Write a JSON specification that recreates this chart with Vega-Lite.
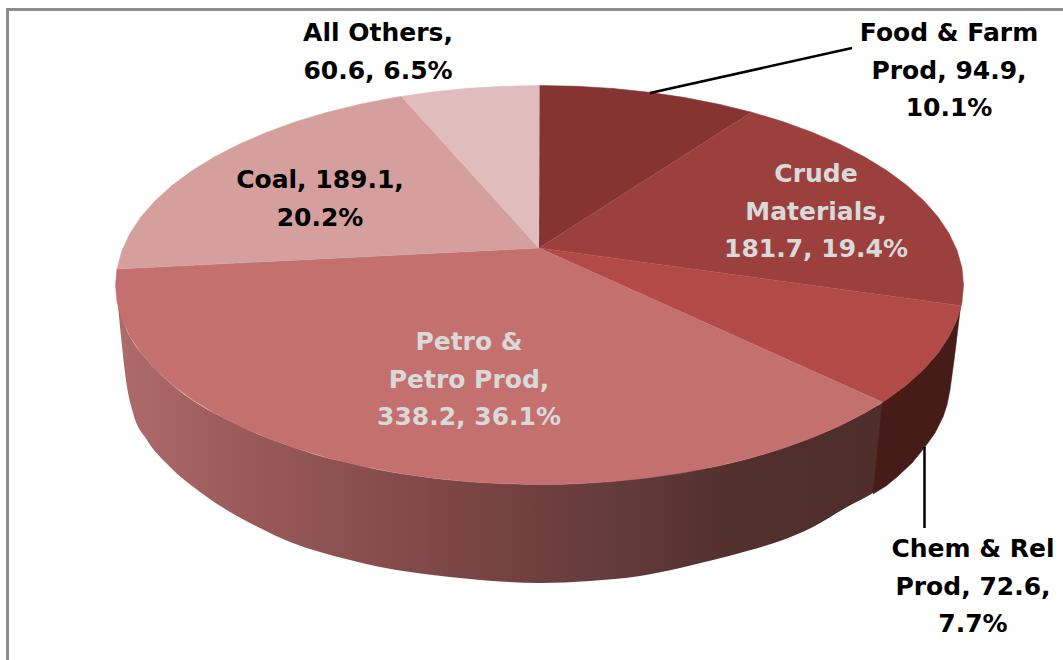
{"$schema":"https://vega.github.io/schema/vega-lite/v6.json","width":1063,"height":660,"padding":0,"autosize":{"type":"none"},"background":"#ffffff","config":{"view":{"stroke":null}},
"datasets":{
"frame":[{"x":7.5,"y":660,"seq":1},{"x":7.5,"y":9.5,"seq":2},{"x":1063,"y":9.5,"seq":3}],
"wall":[{"x":118,"y":304,"y2":306},{"x":127,"y":331,"y2":387},{"x":133,"y":342,"y2":413},{"x":147,"y":360,"y2":440},{"x":170,"y":383,"y2":467},{"x":200,"y":405,"y2":492},{"x":230,"y":421,"y2":512},{"x":260,"y":435,"y2":528},{"x":290,"y":446,"y2":542},{"x":320,"y":456,"y2":552},{"x":350,"y":463,"y2":560},{"x":380,"y":470,"y2":567},{"x":410,"y":475,"y2":572},{"x":460,"y":481,"y2":578},{"x":500,"y":483.5,"y2":581.5},{"x":540,"y":484.5,"y2":583},{"x":590,"y":483,"y2":581},{"x":640,"y":478,"y2":576},{"x":680,"y":472,"y2":568},{"x":713,"y":467,"y2":560},{"x":747,"y":459,"y2":551},{"x":780,"y":449,"y2":541},{"x":813,"y":437,"y2":527},{"x":847,"y":422,"y2":507},{"x":873,"y":408,"y2":493},{"x":882,"y":403,"y2":487}],
"chemwall":[{"seq":1,"x":882,"y":402.3},{"seq":2,"x":886.8,"y":399.4},{"seq":3,"x":906.7,"y":384.8},{"seq":4,"x":923.8,"y":369.3},{"seq":5,"x":937.9,"y":353.2},{"seq":6,"x":949,"y":336.6},{"seq":7,"x":957,"y":319.6},{"seq":8,"x":960.5,"y":307},{"seq":9,"x":955,"y":353},{"seq":10,"x":950,"y":390},{"seq":11,"x":947,"y":405},{"seq":12,"x":943,"y":417},{"seq":13,"x":935,"y":433},{"seq":14,"x":925,"y":447},{"seq":15,"x":912,"y":463},{"seq":16,"x":897,"y":477},{"seq":17,"x":886,"y":486},{"seq":18,"x":873,"y":494}],
"wedges":[
{"slice":"Food & Farm Prod","seq":0,"x":539,"y":248},{"slice":"Food & Farm Prod","seq":1,"x":539.5,"y":85.5},{"slice":"Food & Farm Prod","seq":2,"x":576.5,"y":86.3},{"slice":"Food & Farm Prod","seq":3,"x":613.1,"y":88.5},{"slice":"Food & Farm Prod","seq":4,"x":649.2,"y":92.3},{"slice":"Food & Farm Prod","seq":5,"x":684.5,"y":97.5},{"slice":"Food & Farm Prod","seq":6,"x":718.7,"y":104.2},{"slice":"Food & Farm Prod","seq":7,"x":751.5,"y":112.2},
{"slice":"Crude Materials","seq":0,"x":539,"y":248},{"slice":"Crude Materials","seq":1,"x":751.5,"y":112.2},{"slice":"Crude Materials","seq":2,"x":782.7,"y":121.6},{"slice":"Crude Materials","seq":3,"x":812,"y":132.2},{"slice":"Crude Materials","seq":4,"x":839.3,"y":143.9},{"slice":"Crude Materials","seq":5,"x":864.3,"y":156.8},{"slice":"Crude Materials","seq":6,"x":886.8,"y":170.6},{"slice":"Crude Materials","seq":7,"x":906.7,"y":185.3},{"slice":"Crude Materials","seq":8,"x":923.8,"y":200.7},{"slice":"Crude Materials","seq":9,"x":937.9,"y":216.8},{"slice":"Crude Materials","seq":10,"x":949,"y":233.4},{"slice":"Crude Materials","seq":11,"x":957,"y":250.4},{"slice":"Crude Materials","seq":12,"x":961.9,"y":267.6},{"slice":"Crude Materials","seq":13,"x":963.5,"y":285},{"slice":"Crude Materials","seq":14,"x":961.9,"y":302.4},{"slice":"Crude Materials","seq":15,"x":961.2,"y":305.8},
{"slice":"Chem & Rel Prod","seq":0,"x":539,"y":248},{"slice":"Chem & Rel Prod","seq":1,"x":961.2,"y":305.8},{"slice":"Chem & Rel Prod","seq":2,"x":957,"y":319.6},{"slice":"Chem & Rel Prod","seq":3,"x":949,"y":336.6},{"slice":"Chem & Rel Prod","seq":4,"x":937.9,"y":353.2},{"slice":"Chem & Rel Prod","seq":5,"x":923.8,"y":369.3},{"slice":"Chem & Rel Prod","seq":6,"x":906.7,"y":384.8},{"slice":"Chem & Rel Prod","seq":7,"x":886.8,"y":399.4},{"slice":"Chem & Rel Prod","seq":8,"x":882.5,"y":402.3},
{"slice":"Petro & Petro Prod","seq":0,"x":539,"y":248},{"slice":"Petro & Petro Prod","seq":1,"x":882.5,"y":402.3},{"slice":"Petro & Petro Prod","seq":2,"x":864.3,"y":413.2},{"slice":"Petro & Petro Prod","seq":3,"x":839.3,"y":426.1},{"slice":"Petro & Petro Prod","seq":4,"x":812,"y":437.8},{"slice":"Petro & Petro Prod","seq":5,"x":782.7,"y":448.4},{"slice":"Petro & Petro Prod","seq":6,"x":751.5,"y":457.8},{"slice":"Petro & Petro Prod","seq":7,"x":718.7,"y":465.8},{"slice":"Petro & Petro Prod","seq":8,"x":684.5,"y":472.5},{"slice":"Petro & Petro Prod","seq":9,"x":649.2,"y":477.7},{"slice":"Petro & Petro Prod","seq":10,"x":613.1,"y":481.5},{"slice":"Petro & Petro Prod","seq":11,"x":576.5,"y":483.7},{"slice":"Petro & Petro Prod","seq":12,"x":539.5,"y":484.5},{"slice":"Petro & Petro Prod","seq":13,"x":502.5,"y":483.7},{"slice":"Petro & Petro Prod","seq":14,"x":465.9,"y":481.5},{"slice":"Petro & Petro Prod","seq":15,"x":429.8,"y":477.7},{"slice":"Petro & Petro Prod","seq":16,"x":394.5,"y":472.5},{"slice":"Petro & Petro Prod","seq":17,"x":360.3,"y":465.8},{"slice":"Petro & Petro Prod","seq":18,"x":327.5,"y":457.8},{"slice":"Petro & Petro Prod","seq":19,"x":296.3,"y":448.4},{"slice":"Petro & Petro Prod","seq":20,"x":267,"y":437.8},{"slice":"Petro & Petro Prod","seq":21,"x":239.7,"y":426.1},{"slice":"Petro & Petro Prod","seq":22,"x":214.7,"y":413.2},{"slice":"Petro & Petro Prod","seq":23,"x":192.2,"y":399.4},{"slice":"Petro & Petro Prod","seq":24,"x":172.3,"y":384.8},{"slice":"Petro & Petro Prod","seq":25,"x":155.2,"y":369.3},{"slice":"Petro & Petro Prod","seq":26,"x":141.1,"y":353.2},{"slice":"Petro & Petro Prod","seq":27,"x":130,"y":336.6},{"slice":"Petro & Petro Prod","seq":28,"x":122,"y":319.6},{"slice":"Petro & Petro Prod","seq":29,"x":117.1,"y":302.4},{"slice":"Petro & Petro Prod","seq":30,"x":115.5,"y":285},{"slice":"Petro & Petro Prod","seq":31,"x":117,"y":269},
{"slice":"Coal","seq":0,"x":539,"y":248},{"slice":"Coal","seq":1,"x":117,"y":269},{"slice":"Coal","seq":2,"x":122,"y":250.4},{"slice":"Coal","seq":3,"x":130,"y":233.4},{"slice":"Coal","seq":4,"x":141.1,"y":216.8},{"slice":"Coal","seq":5,"x":155.2,"y":200.7},{"slice":"Coal","seq":6,"x":172.3,"y":185.3},{"slice":"Coal","seq":7,"x":192.2,"y":170.6},{"slice":"Coal","seq":8,"x":214.7,"y":156.8},{"slice":"Coal","seq":9,"x":239.7,"y":143.9},{"slice":"Coal","seq":10,"x":267,"y":132.2},{"slice":"Coal","seq":11,"x":296.3,"y":121.6},{"slice":"Coal","seq":12,"x":327.5,"y":112.2},{"slice":"Coal","seq":13,"x":360.3,"y":104.2},{"slice":"Coal","seq":14,"x":394.5,"y":97.5},{"slice":"Coal","seq":15,"x":401.5,"y":96.4},
{"slice":"All Others","seq":0,"x":539,"y":248},{"slice":"All Others","seq":1,"x":401.5,"y":96.4},{"slice":"All Others","seq":2,"x":429.8,"y":92.3},{"slice":"All Others","seq":3,"x":465.9,"y":88.5},{"slice":"All Others","seq":4,"x":502.5,"y":86.3},{"slice":"All Others","seq":5,"x":539.5,"y":85.5}],
"leaders":[{"leader":"food","seq":1,"x":650,"y":93},{"leader":"food","seq":2,"x":852,"y":48},{"leader":"chem","seq":1,"x":924.5,"y":447},{"leader":"chem","seq":2,"x":924.5,"y":528}],
"labels":[{"label":"Food & Farm\nProd, 94.9,\n10.1%","tone":"dark","x":949,"y":33},{"label":"All Others,\n60.6, 6.5%","tone":"dark","x":378,"y":33},{"label":"Coal, 189.1,\n20.2%","tone":"dark","x":320,"y":180},{"label":"Chem & Rel\nProd, 72.6,\n7.7%","tone":"dark","x":973,"y":549},{"label":"Crude\nMaterials,\n181.7, 19.4%","tone":"light","x":816,"y":174},{"label":"Petro &\nPetro Prod,\n338.2, 36.1%","tone":"light","x":469,"y":342}]},
"encoding":{"x":{"field":"x","type":"quantitative","scale":{"domain":[0,1063],"nice":false,"zero":false},"axis":null},"y":{"field":"y","type":"quantitative","scale":{"domain":[660,0],"nice":false,"zero":false},"axis":null}},
"layer":[
{"data":{"name":"frame"},"mark":{"type":"line","stroke":"#8c8c8c","strokeWidth":3},"encoding":{"order":{"field":"seq"}}},
{"data":{"name":"wall"},"mark":{"type":"area","interpolate":"monotone","fill":{"gradient":"linear","x1":0,"y1":0,"x2":1,"y2":0,"stops":[{"offset":0,"color":"#ae6b6b"},{"offset":0.186,"color":"#985858"},{"offset":0.382,"color":"#834a4a"},{"offset":0.552,"color":"#6f3f3e"},{"offset":0.63,"color":"#663c3c"},{"offset":0.8,"color":"#52302e"},{"offset":1,"color":"#4e2d2b"}]}},"encoding":{"y2":{"field":"y2"}}},
{"data":{"name":"chemwall"},"mark":{"type":"line","fill":"#461c18","stroke":"#461c18","strokeWidth":0.5},"encoding":{"order":{"field":"seq"}}},
{"data":{"name":"wedges"},"mark":{"type":"line","strokeWidth":0.6},"encoding":{"order":{"field":"seq"},
"fill":{"field":"slice","type":"nominal","legend":null,"scale":{"domain":["Food & Farm Prod","Crude Materials","Chem & Rel Prod","Petro & Petro Prod","Coal","All Others"],"range":["#853432","#9c403d","#b24a47","#c4706e","#d49f9c","#e0bcbc"]}},
"stroke":{"field":"slice","type":"nominal","legend":null,"scale":{"domain":["Food & Farm Prod","Crude Materials","Chem & Rel Prod","Petro & Petro Prod","Coal","All Others"],"range":["#853432","#9c403d","#b24a47","#c4706e","#d49f9c","#e0bcbc"]}}}},
{"data":{"name":"leaders"},"mark":{"type":"line","stroke":"#000000","strokeWidth":2.5},"encoding":{"detail":{"field":"leader"},"order":{"field":"seq"}}},
{"data":{"name":"labels"},"transform":[{"filter":"datum.tone==='dark'"}],"mark":{"type":"text","font":"DejaVu Sans","fontWeight":"bold","fontSize":25,"lineBreak":"\n","lineHeight":37.7,"align":"center","baseline":"middle","fill":"#000000"},"encoding":{"text":{"field":"label"}}},
{"data":{"name":"labels"},"transform":[{"filter":"datum.tone==='light'"}],"mark":{"type":"text","font":"DejaVu Sans","fontWeight":"bold","fontSize":25,"lineBreak":"\n","lineHeight":37.7,"align":"center","baseline":"middle","fill":"#d9d9d9"},"encoding":{"text":{"field":"label"}}}
]}
